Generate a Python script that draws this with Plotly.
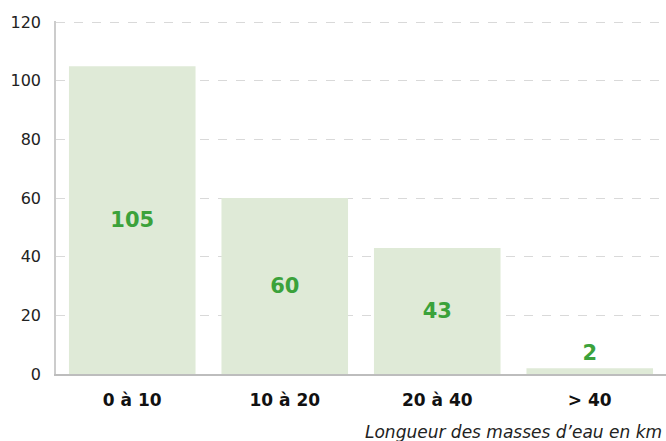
import plotly.graph_objects as go

categories = ["0 à 10", "10 à 20", "20 à 40", "> 40"]
values = [105, 60, 43, 2]
y_ticks = [0, 20, 40, 60, 80, 100, 120]
x_title = "Longueur des masses d’eau en km"

FONT = "DejaVu Sans"
BAR = "#dfead7"
GREEN = "#3ba23b"

fig = go.Figure(go.Bar(
    x=categories, y=values,
    marker=dict(color=BAR, line=dict(width=0)),
    text=[str(v) for v in values],
    textposition=["inside", "inside", "inside", "outside"],
    insidetextanchor="middle",
    textfont=dict(family=FONT, size=21, color=GREEN, weight="bold"),
    outsidetextfont=dict(family=FONT, size=21, color=GREEN, weight="bold"),
    cliponaxis=False,
    hoverinfo="skip",
))

fig.update_layout(
    width=666, height=441,
    margin=dict(l=56, r=0, t=21, b=67, autoexpand=False),
    paper_bgcolor="white", plot_bgcolor="white",
    bargap=0.17,
    showlegend=False,
    uniformtext=dict(mode=False),
    xaxis=dict(
        automargin=False,
        showgrid=False, showline=True, linecolor="#bdbdbd", linewidth=1.5,
        ticks="", tickfont=dict(family=FONT, size=17, color="#111", weight="bold"),
        ticklabelstandoff=10,
    ),
    yaxis=dict(
        automargin=False,
        range=[0, 120.4], tickvals=y_ticks, showgrid=True, gridcolor="#d9d9d9",
        griddash="dash", gridwidth=1, showline=True, linecolor="#cccccc", linewidth=1.5,
        zeroline=False, ticks="", tickfont=dict(family=FONT, size=16, color="#222"),
        ticklabelstandoff=10,
    ),
    annotations=[dict(
        text=x_title, xref="paper", yref="paper", x=0.997, y=-0.165,
        xanchor="right", yanchor="middle", showarrow=False,
        font=dict(family=FONT, size=17, color="#222", style="italic"),
    )],
)

fig.write_html(
    "out.html",
    config={"displayModeBar": False},
    post_script="document.body.style.margin='0';document.body.style.overflow='hidden';",
)
